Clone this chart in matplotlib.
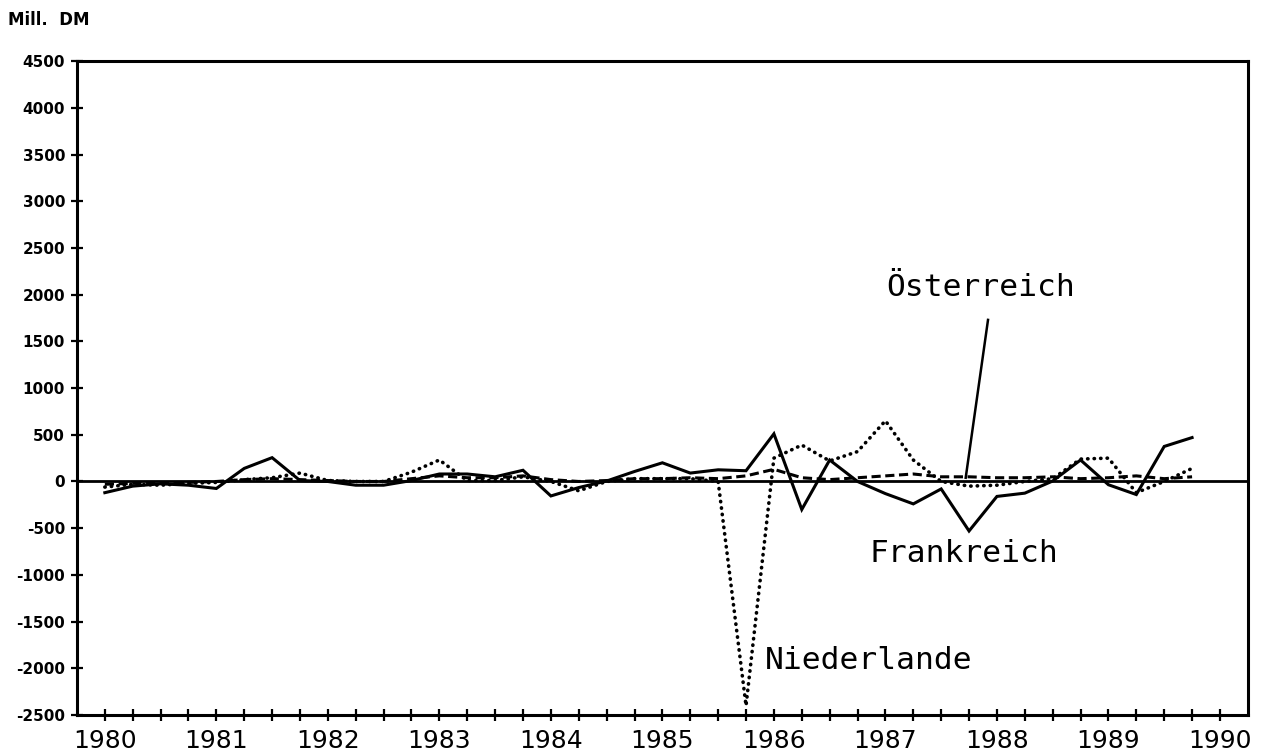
import matplotlib
matplotlib.use("Agg")
import matplotlib.pyplot as plt

# Quartalswerte 1980 I bis 1989 IV, Mill. DM
quartale = [1980 + q / 4 for q in range(40)]

frankreich = [-120, -50, -25, -40, -75, 140, 255, 10,
              0, -40, -40, 10, 80, 80, 50, 120,
              -155, -65, 5, 107, 200, 90, 125, 115,
              510, -300, 230, 0, -130, -240, -80, -530,
              -160, -125, 5, 230, -35, -140, 375, 470]

niederlande = [-60, -30, -40, -20, -10, 20, 40, 90,
               10, 0, 0, 100, 230, 10, 10, 50,
               0, -100, 0, 30, 30, 30, 0, -2400,
               250, 390, 220, 320, 650, 230, 0, -50,
               -40, 0, 30, 240, 250, -120, 0, 140]

oesterreich = [-30, -20, -20, -10, 0, 20, 30, 20,
               10, 0, 0, 30, 60, 40, 40, 60,
               20, 0, 10, 30, 30, 40, 30, 60,
               130, 40, 20, 40, 60, 80, 50, 50,
               40, 40, 50, 30, 40, 60, 30, 50]

jahre = list(range(1980, 1991))
y_ticks = list(range(-2500, 5000, 500))

fig = plt.figure(figsize=(12.72, 7.55), dpi=100)
ax = fig.add_axes([0.0605, 0.053, 0.9205, 0.866])

ax.plot(quartale, frankreich, color="black", lw=2.2, solid_joinstyle="miter")
ax.plot(quartale, niederlande, color="black", lw=2.6,
        linestyle=(0, (0.1, 1.7)), dash_capstyle="round")
ax.plot(quartale, oesterreich, color="black", lw=2.2,
        linestyle=(0, (3, 1.5)))

# Nulllinie
ax.axhline(0, color="black", lw=2.0)

ax.set_xlim(1979.75, 1990.25)
ax.set_ylim(-2500, 4500)

# Striche jedes Quartal, Beschriftung nur am Jahresanfang
x_ticks = [1980 + q / 4 for q in range(41)]
x_labels = [str(jahre[q // 4]) if q % 4 == 0 else "" for q in range(41)]
ax.set_xticks(x_ticks)
ax.set_xticklabels(x_labels, fontsize=18)
ax.set_yticks(y_ticks)
ax.set_yticklabels([str(v) for v in y_ticks], fontsize=11, fontweight="bold")

ax.tick_params(axis="x", direction="inout", length=8, width=1.6, pad=6)
ax.tick_params(axis="y", direction="inout", length=9, width=1.6, pad=4)

for s in ["left", "bottom", "right", "top"]:
    ax.spines[s].set_linewidth(2.2)

# Beschriftungen
mono = "DejaVu Sans Mono"
fig.text(0.006, 0.973, "Mill.  DM", fontsize=12, fontweight="bold",
         ha="left", va="center")
ax.text(1987.85, 2080, "Österreich", fontsize=22.5, family=mono,
        ha="center", va="center")
ax.plot([1987.72, 1987.92], [40, 1730], color="black", lw=1.8)
ax.text(1987.7, -770, "Frankreich", fontsize=22.5, family=mono,
        ha="center", va="center")
ax.text(1986.85, -1920, "Niederlande", fontsize=22.5, family=mono,
        ha="center", va="center")

fig.savefig("out.png", dpi=100)
